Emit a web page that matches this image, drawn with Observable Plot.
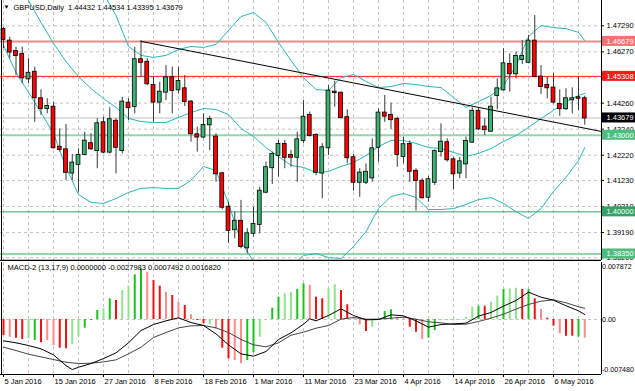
<!DOCTYPE html>
<html><head><meta charset="utf-8">
<script src="https://cdn.jsdelivr.net/npm/d3@7"></script>
<script src="https://cdn.jsdelivr.net/npm/@observablehq/plot@0.6"></script>
<style>
html,body{margin:0;padding:0;background:#fff;}
#chart svg{display:block;overflow:hidden;}
</style></head><body><div id="chart"></div>
<script>
// ---- Daily GBPUSD candles, 5 Jan 2016 .. 13 May 2016 (bar index 0..93)
const opens = [1.4714,1.4669,1.4628,1.4617,1.4521,1.4547,1.4443,1.4405,1.4410,1.4253,
1.4243,1.4152,1.4186,1.4225,1.4267,1.4240,1.4349,1.4234,1.4355,1.4240,
1.4426,1.4413,1.4596,1.4586,1.4495,1.4430,1.4469,1.4525,1.4478,1.4482,
1.4430,1.4302,1.4293,1.4341,1.4293,1.4149,1.4018,1.3930,1.3963,1.3859,
1.3916,1.3951,1.4077,1.4173,1.4221,1.4264,1.4221,1.4214,1.4280,1.4378,
1.4299,1.4152,1.4251,1.4469,1.4465,1.4369,1.4212,1.4116,1.4116,1.4133,
1.4253,1.4387,1.4378,1.4362,1.4217,1.4264,1.4159,1.4120,1.4057,1.4116,
1.4236,1.4271,1.4204,1.4152,1.4188,1.4273,1.4394,1.4332,1.4316,1.4456,
1.4478,1.4577,1.4541,1.4597,1.4586,1.4669,1.4528,1.4495,1.4485,1.4421,
1.4404,1.4439,1.4447,1.44432];
const highs = [1.4722,1.4684,1.4645,1.4645,1.4600,1.4567,1.4478,1.4443,1.4430,1.4325,
1.4342,1.4225,1.4247,1.4312,1.4306,1.4365,1.4371,1.4408,1.4365,1.4448,
1.4443,1.4645,1.4671,1.4600,1.4528,1.4508,1.4573,1.4567,1.4567,1.4534,
1.4436,1.4332,1.4384,1.4374,1.4306,1.4155,1.4038,1.3999,1.4045,1.3934,
1.4018,1.4097,1.4195,1.4234,1.4280,1.4280,1.4240,1.4312,1.4436,1.4391,
1.4306,1.4267,1.4495,1.4512,1.4469,1.4400,1.4225,1.4169,1.4188,1.4286,
1.4404,1.4456,1.4426,1.4371,1.4293,1.4277,1.4169,1.4130,1.4139,1.4243,
1.4345,1.4286,1.4214,1.4214,1.4293,1.4408,1.4408,1.4365,1.4449,1.4521,
1.4639,1.4619,1.4626,1.4671,1.4691,1.4769,1.4573,1.4528,1.4543,1.4478,
1.4482,1.4486,1.4528,1.44534];
const lows = [1.4640,1.4600,1.4534,1.4502,1.4502,1.4351,1.4378,1.4384,1.4247,1.4234,
1.4123,1.4123,1.4077,1.4221,1.4240,1.4169,1.4227,1.4227,1.4149,1.4227,
1.4358,1.4384,1.4528,1.4495,1.4351,1.4384,1.4436,1.4384,1.4462,1.4413,
1.4273,1.4234,1.4287,1.4240,1.4116,1.4008,1.3877,1.3894,1.3855,1.3835,
1.3901,1.3914,1.4071,1.4107,1.4136,1.4169,1.4175,1.4116,1.4267,1.4293,
1.4142,1.4051,1.4221,1.4410,1.4365,1.4188,1.4081,1.4057,1.4107,1.4116,
1.4195,1.4351,1.4323,1.4175,1.4188,1.4116,1.4003,1.4051,1.4038,1.4103,
1.4214,1.4195,1.4086,1.4130,1.4130,1.4269,1.4319,1.4299,1.4312,1.4400,
1.4473,1.4469,1.4521,1.4577,1.4580,1.4530,1.4460,1.4443,1.4423,1.4374,
1.4397,1.4384,1.4397,1.43395];
const closes = [1.4675,1.4626,1.4613,1.4525,1.4543,1.4447,1.4405,1.4413,1.4251,1.4244,
1.4155,1.4191,1.4221,1.4277,1.4247,1.4345,1.4234,1.4361,1.4253,1.4430,
1.4408,1.4596,1.4586,1.4502,1.4430,1.4469,1.4525,1.4476,1.4511,1.4432,
1.4306,1.4293,1.4338,1.4362,1.4149,1.4018,1.3927,1.3963,1.3864,1.3914,
1.3951,1.4081,1.4173,1.4225,1.4264,1.4214,1.4214,1.4282,1.4371,1.4299,
1.4155,1.4251,1.4473,1.4467,1.4369,1.4212,1.4116,1.4152,1.4155,1.4247,
1.4387,1.4375,1.4361,1.4225,1.4263,1.4159,1.4123,1.4055,1.4126,1.4236,
1.4273,1.4204,1.4149,1.4196,1.4276,1.4394,1.4325,1.4322,1.4410,1.4482,
1.4580,1.4541,1.4609,1.4609,1.4669,1.4530,1.4491,1.4486,1.4430,1.4404,
1.4443,1.4443,1.4445,1.43679];

// ---- Bollinger bands read at these bar indices
const bbIdx = [0,2,4,6,8,10,12,14,16,18,20,22,24,26,28,30,32,34,36,38,40,42,44,46,48,50,52,54,56,58,60,62,64,66,68,70,72,74,76,78,80,82,84,86,88,90,92,93];
const bbUpper = [null,null,null,null,null,null,null,1.4930,1.4856,1.4769,1.4648,1.4613,1.4605,1.4613,1.4636,1.4648,1.4644,1.4656,1.4711,1.4765,1.4781,1.4742,1.4664,1.4593,1.4526,1.4479,1.4476,1.4526,1.4538,1.4511,1.4487,1.4491,1.4503,1.4499,1.4491,1.4487,1.4448,1.4409,1.4432,1.4456,1.4495,1.4573,1.4687,1.4730,1.4722,1.4718,1.4703,1.4671];
const bbMiddle = [1.4985,1.4899,1.4828,1.4742,1.4660,1.4589,1.4530,1.4483,1.4444,1.4409,1.4366,1.4354,1.4350,1.4350,1.4370,1.4389,1.4405,1.4401,1.4381,1.4327,1.4295,1.4252,1.4217,1.4182,1.4174,1.4154,1.4158,1.4178,1.4193,1.4221,1.4256,1.4280,1.4280,1.4268,1.4252,1.4248,1.4233,1.4217,1.4229,1.4248,1.4276,1.4299,1.4331,1.4366,1.4397,1.4432,1.4456,1.4464];
const bbLower = [1.4652,1.4546,1.4468,1.4389,1.4307,1.4174,1.4068,1.4037,1.4033,1.4052,1.4076,1.4092,1.4095,1.4092,1.4092,1.4123,1.4178,1.4162,1.4033,1.3884,1.3806,1.3774,1.3762,1.3786,1.3829,1.3837,1.3821,1.3817,1.3864,1.3923,1.4013,1.4060,1.4072,1.4056,1.4009,1.4009,1.4013,1.4029,1.4048,1.4056,1.4033,1.4001,1.3974,1.4013,1.4080,1.4135,1.4201,1.4252];

// ---- Horizontal levels and trendline
const levelValues = [1.46679, 1.45308, 1.43000, 1.40000, 1.38350];
const levelLine   = ["#f08a8a", "#ff1a1a", "#93d6aa", "#34a265", "#93d6aa"];
const levelBox    = ["#f07272", "#ff1a1a", "#4fbb7d", "#34a265", "#4fbb7d"];
const levelWidth  = [2, 1, 2, 1, 2];
const trendIdx = [22, 95.68];
const trendPrice = [1.4668, 1.4315];
const priceTicks = [1.4729, 1.4627, 1.4525, 1.4426, 1.4324, 1.4222, 1.4123, 1.4021, 1.3919, 1.3820];

// ---- MACD-2 (13,17,9)
const histValues = [-0.00239,-0.00265,-0.00280,-0.00299,-0.00289,-0.00314,-0.00349,-0.00314,-0.00389,-0.00429,
-0.00438,-0.00378,-0.00265,-0.00130,-0.00015,0.00135,0.00160,0.00310,0.00284,0.00434,
0.00498,0.00669,0.00758,0.00708,0.00583,0.00498,0.00408,0.00359,0.00259,0.00209,
0.00070,-0.00015,-0.00064,-0.00079,-0.00139,-0.00429,-0.00588,-0.00613,-0.00663,-0.00613,
-0.00498,-0.00265,0,0.00169,0.00334,0.00384,0.00399,0.00449,0.00534,0.00509,
0.00334,0.00310,0.00459,0.00519,0.00434,0.00220,0.00019,-0.00079,-0.00180,-0.00115,
0.00010,0.00120,0.00145,0.00034,0.00010,-0.00115,-0.00190,-0.00299,-0.00280,-0.00165,
-0.00019,-0.00019,-0.00019,-0.00010,0.00034,0.00184,0.00199,0.00199,0.00259,0.00349,
0.00449,0.00459,0.00468,0.00449,0.00449,0.00310,0.00150,0.00019,-0.00100,-0.00214,
-0.00250,-0.00250,-0.00265,-0.0027983];
const histColorCodes = "RrRRgGRrrR" + "RggGGGgGRg" + "gGGrRRrRrR" + "rRRgrRRrrG" + "GggGGggGGr" +
                       "RRggRRrrRg" + "gGGrrRRrGG" + "ggggggGRgg" + "GggRGRrRRr" + "RRGr";
const histPalette = {G: "#1cc21c", g: "#90e290", R: "#f01010", r: "#ff8a8a"};
const macdIdx = [0,2,4,6,8,10,11,12,14,16,18,20,22,24,26,28,30,32,34,36,38,40,42,44,46,48,49,50,52,54,56,58,60,62,64,66,68,70,72,74,76,78,80,82,84,86,88,90,92,93];
const macdMain = [-0.00319,-0.00349,-0.00389,-0.00439,-0.00529,-0.00689,-0.00749,-0.00714,-0.00659,-0.00584,-0.00499,-0.00349,-0.00165,-0.00075,-0.00020,0.00025,-0.00045,-0.00090,-0.00215,-0.00379,-0.00514,-0.00549,-0.00479,-0.00299,-0.00200,-0.00070,0.00010,-0.00020,0.00060,0.00160,0.00060,-0.00005,0.00000,0.00070,0.00055,-0.00020,-0.00115,-0.00075,-0.00065,-0.00055,0.00050,0.00105,0.00200,0.00284,0.00409,0.00334,0.00289,0.00205,0.00130,0.0007492];
const sigIdx = bbIdx;
const macdSignal = [-0.00414,-0.00464,-0.00519,-0.00559,-0.00599,-0.00639,-0.00659,-0.00654,-0.00634,-0.00604,-0.00514,-0.00414,-0.00269,-0.00195,-0.00125,-0.00095,-0.00090,-0.00125,-0.00195,-0.00299,-0.00379,-0.00409,-0.00349,-0.00235,-0.00190,-0.00130,-0.00090,0.00005,0.00030,0.00005,0.00005,0.00020,0.00035,0.00005,-0.00035,-0.00050,-0.00075,-0.00070,-0.00030,0.00020,0.00080,0.00155,0.00225,0.00274,0.00294,0.00250,0.00190,0.0016820];
const macdAxisValues = [0.007872, 0, -0.00748];
const macdAxisLabels = ["0.007872", "0.00", "-0.007480"];

// ---- Date axis
const dateTickIdx = [0,8,16,24,32,40,48,56,64,72,80,88];
const dateTickLabels = ["5 Jan 2016","15 Jan 2016","27 Jan 2016","8 Feb 2016","18 Feb 2016","1 Mar 2016","11 Mar 2016","23 Mar 2016","4 Apr 2016","14 Apr 2016","26 Apr 2016","6 May 2016"];
const gridIdx = d3.range(0, 93, 4);

const titleText = "GBPUSD,Daily  1.44432 1.44534 1.43395 1.43679";
const macdTitle = "MACD-2 (13,17,9) 0.0000000 -0.0027983 0.0007492 0.0016820";

// ---- build tables
const bars = opens.map((o, i) => ({i, o, h: highs[i], l: lows[i], c: closes[i]}));
const bb = bbIdx.map((i, k) => ({i, up: bbUpper[k], mid: bbMiddle[k], lo: bbLower[k]}));
const levels = levelValues.map((v, k) => ({v, line: levelLine[k], box: levelBox[k], w: levelWidth[k], txt: "white"}));
const lastClose = closes[closes.length - 1];
const boxes = [...levels, {v: lastClose, line: "#c0c0c0", box: "#000", w: 1, txt: "white"}];
const trend = trendIdx.map((i, k) => ({i, p: trendPrice[k]}));
const hist = histValues.map((v, i) => ({i, v, col: histPalette[histColorCodes[i]]}));
const macdA = macdIdx.map((i, k) => ({i, v: macdMain[k]}));
const macdB = sigIdx.map((i, k) => ({i, v: macdSignal[k]}));

const xDomain = [-0.48, 95.68];
const xMax = xDomain[1];
const font = "'Liberation Sans', Arial, sans-serif";
const grid = {stroke: "#c4c4c4", strokeDasharray: "3,3", strokeWidth: 1};
const GREEN = "#3cb371", RED = "#ff0000";

const main = Plot.plot({
  width: 635, height: 261,
  marginTop: 0, marginBottom: 1, marginLeft: 0, marginRight: 34,
  x: {domain: xDomain, axis: null},
  y: {domain: [1.380942, 1.48281], axis: null},
  style: {fontFamily: font, fontSize: "7.5px", background: "white"},
  marks: [
    Plot.ruleX(gridIdx, {x: d => d, ...grid}),
    Plot.ruleY(priceTicks, {y: d => d, ...grid}),
    Plot.ruleY([lastClose], {y: d => d, stroke: "#c0c0c0"}),
    Plot.ruleY(levels, {y: "v", stroke: "line", strokeWidth: "w"}),
    Plot.line(bb, {x: "i", y: "up", stroke: "#2bb6b3", strokeWidth: 1, clip: true}),
    Plot.line(bb, {x: "i", y: "mid", stroke: "#2bb6b3", strokeWidth: 1, clip: true}),
    Plot.line(bb, {x: "i", y: "lo", stroke: "#2bb6b3", strokeWidth: 1, clip: true}),
    Plot.ruleX(bars, {x: "i", y1: "l", y2: "h", stroke: "#3a3a3a", strokeWidth: 1}),
    Plot.rect(bars, {x1: d => d.i - 0.5, x2: d => d.i + 0.5, y1: "o", y2: "c",
      insetLeft: 1.2, insetRight: 1.2, insetTop: -0.5, insetBottom: -0.5,
      fill: d => d.c >= d.o ? GREEN : RED, stroke: "#000", strokeWidth: 0.8}),
    Plot.line(trend, {x: "i", y: "p", stroke: "#000", strokeWidth: 1, clip: true}),
    // frame
    Plot.ruleX([xDomain[0]], {x: d => d, stroke: "#000", dx: 1}),
    Plot.ruleX([xMax], {x: d => d, stroke: "#000"}),
    Plot.ruleY([1.380942], {y: d => d, stroke: "#000", strokeWidth: 1.5}),
    // price axis
    Plot.ruleY(priceTicks, {y: d => d, x1: xMax, x2: xMax, insetRight: -3, stroke: "#000"}),
    Plot.text(priceTicks, {x: xMax, y: d => d, text: d => d.toFixed(5), textAnchor: "start", dx: 5, fill: "#000"}),
    Plot.rect(boxes, {x1: xMax, x2: xMax, y1: "v", y2: "v", insetLeft: 1, insetRight: -34, insetTop: -5, insetBottom: -5, fill: "box"}),
    Plot.text(boxes, {x: xMax, y: "v", text: d => d.v.toFixed(5), textAnchor: "start", dx: 5, fill: "txt"}),
    // title
    Plot.text(["\u25BC"], {frameAnchor: "top-left", dx: 3, dy: 4, lineAnchor: "top", textAnchor: "start", fontSize: 6, fill: "#000"}),
    Plot.text([titleText], {frameAnchor: "top-left", dx: 13, dy: 4, lineAnchor: "top", textAnchor: "start", fill: "#000"})
  ]
});

const macd = Plot.plot({
  width: 635, height: 130,
  marginTop: 1, marginBottom: 17, marginLeft: 0, marginRight: 34,
  x: {domain: xDomain, axis: null},
  y: {domain: [-0.008228, 0.008527], axis: null},
  style: {fontFamily: font, fontSize: "7.5px", background: "white"},
  marks: [
    Plot.ruleX(gridIdx, {x: d => d, ...grid}),
    Plot.ruleY([0], {y: d => d, ...grid}),
    Plot.ruleX(hist, {x: "i", y1: 0, y2: "v", stroke: "col", strokeWidth: 2}),
    Plot.line(macdB, {x: "i", y: "v", stroke: "#444", strokeWidth: 1}),
    Plot.line(macdA, {x: "i", y: "v", stroke: "#000", strokeWidth: 1}),
    Plot.ruleX([xDomain[0]], {x: d => d, stroke: "#000", dx: 1}),
    Plot.ruleX([xMax], {x: d => d, stroke: "#000"}),
    Plot.ruleY([-0.008228], {y: d => d, x1: xDomain[0], x2: xMax, stroke: "#000"}),
    Plot.ruleX(dateTickIdx, {x: d => d, y1: -0.008228, y2: -0.008228, insetBottom: -3, stroke: "#000"}),
    Plot.text(dateTickIdx, {x: d => d, frameAnchor: "bottom", lineAnchor: "top", textAnchor: "start", dy: 4, dx: 1,
      text: (d, k) => dateTickLabels[k], fill: "#000"}),
    Plot.text(macdAxisValues, {x: xMax, y: d => d, text: (d, k) => macdAxisLabels[k], textAnchor: "start", dx: 0.5, fontSize: 7.1, fill: "#000"}),
    Plot.text([macdTitle], {frameAnchor: "top-left", dx: 7, dy: 2.5, lineAnchor: "top", textAnchor: "start", fill: "#000"})
  ]
});

document.getElementById("chart").append(main, macd);
</script></body></html>
